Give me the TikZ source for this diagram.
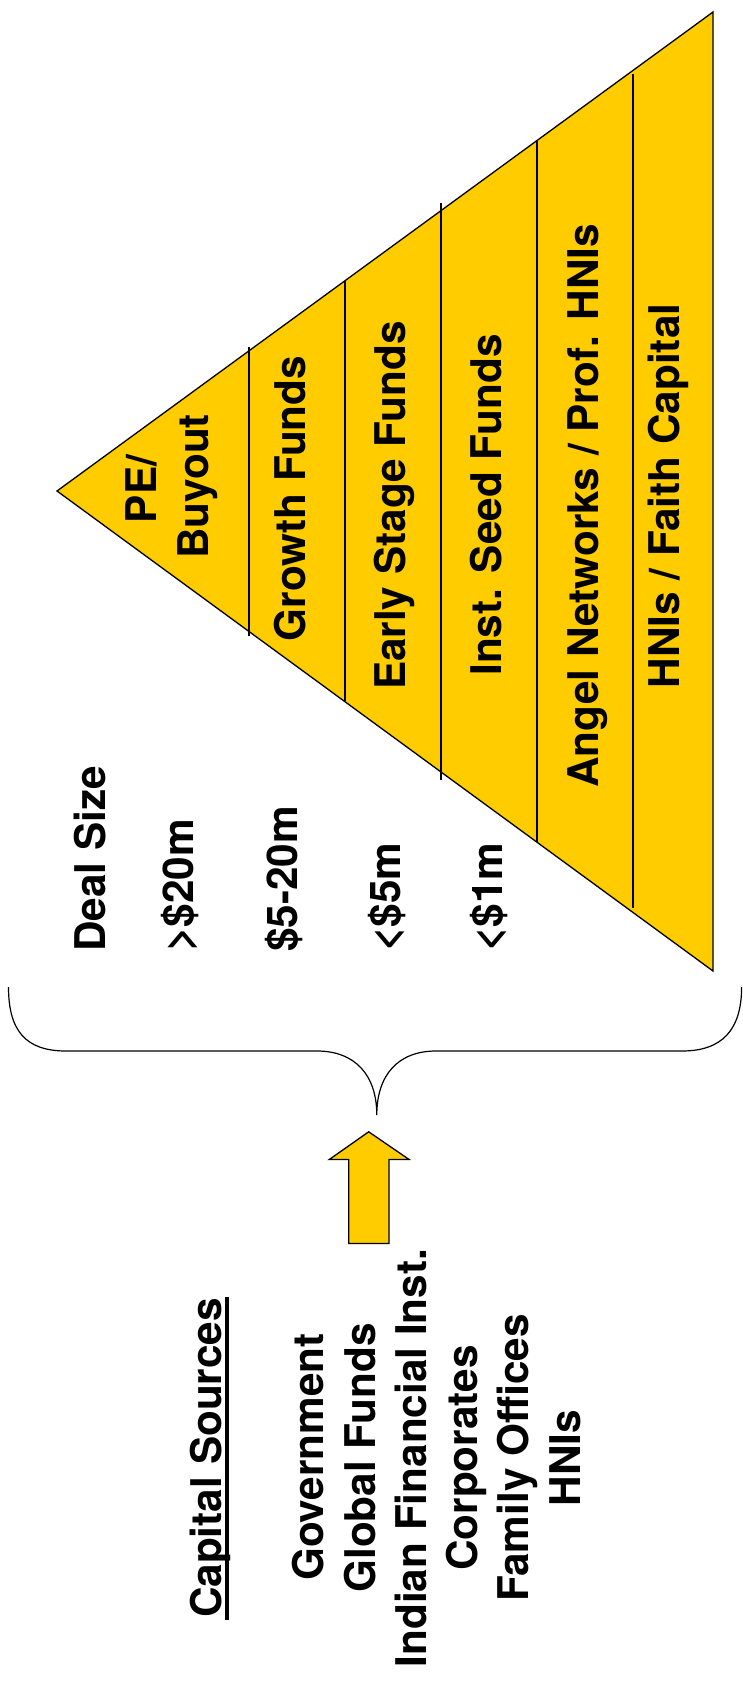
\documentclass[tikz,border=0pt]{standalone}
\usepackage{fontspec}
\setmainfont{TeX Gyre Heros}
\definecolor{gold}{HTML}{FFCC00}
\begin{document}
\begin{tikzpicture}[x=1pt,y=-1pt,
  lab/.style={font=\fontsize{42.3}{50}\selectfont\bfseries, inner sep=0pt, rotate=90, anchor=base},
  lefttxt/.style={lab, anchor=base west},
  divider/.style={line width=1.1pt},
  outline/.style={line width=1.3pt, line join=miter}]
\useasboundingbox (0,0) rectangle (743,1681);
% pyramid
\filldraw[outline, fill=gold] (57,491) -- (713,12) -- (713,971) -- cycle;
\draw[divider] (249,347) -- (249,636);
\draw[divider] (345,281) -- (345,701);
\draw[divider] (441,203) -- (441,780);
\draw[divider] (537,140) -- (537,842);
\draw[divider] (633,74) -- (633,908);
% pyramid labels
\node[lab] (pe) at (156.7,489) {PE/};
\node[lab] (buyout) at (208.3,486.5) {Buyout};
\node[lab] (growth) at (305.5,498.5) {Growth Funds};
\node[lab] (early) at (405.5,505.7) {Early Stage Funds};
\node[lab] (seed) at (501.5,505) {Inst. Seed Funds};
\node[lab] (angel) at (598.3,505.8) {Angel Networks / Prof. HNIs};
\node[lab] (faith) at (679.5,496) {HNIs / Faith Capital};
% deal sizes
\node[lefttxt] (deal) at (105,952) {Deal Size};
\node[lefttxt] (d20) at (193.5,952) {>\$20m};
\node[lefttxt] (d520) at (297,952) {\$5-20m};
\node[lefttxt] (d5) at (400,952) {<\$5m};
\node[lefttxt] (d1) at (502,952) {<\$1m};
% brace
\draw[line width=1.2pt] (8.5,987) .. controls (8.5,1030) and (25,1051) .. (66,1051)
  -- (317,1051) .. controls (355,1051) and (376.8,1075) .. (376.8,1115)
  .. controls (376.8,1075) and (398,1051) .. (436,1051)
  -- (682,1051) .. controls (722,1051) and (741.6,1030) .. (741.6,987);
% arrow
\filldraw[outline, fill=gold] (368.7,1131.8) -- (409,1159.4) -- (389,1159.4) -- (389,1243.4)
  -- (348.8,1243.4) -- (348.8,1159.4) -- (329.4,1159.4) -- cycle;
% capital sources
\node[lab] (cap) at (221.7,1458) {Capital Sources};
\draw[line width=3.5pt] (227.2,1297) -- (227.2,1620);
\node[lab] (gov) at (323.3,1457) {Government};
\node[lab] (glob) at (375,1458) {Global Funds};
\node[lab] (ind) at (426.7,1458) {Indian Financial Inst.};
\node[lab] (corp) at (477.5,1458) {Corporates};
\node[lab] (fam) at (528.5,1458) {Family Offices};
\node[lab] (hni) at (580,1458) {HNIs};
\end{tikzpicture}
\end{document}
